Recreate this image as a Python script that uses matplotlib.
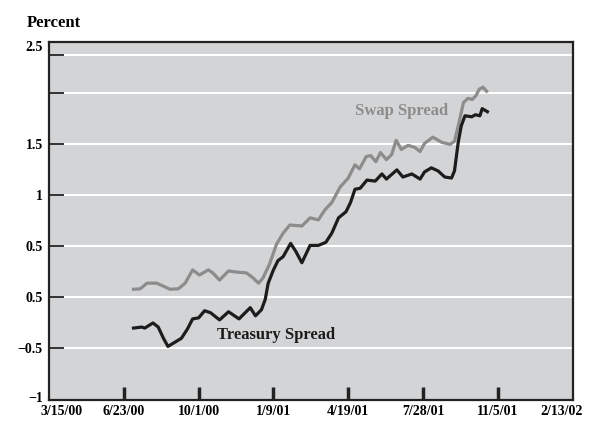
import matplotlib
matplotlib.use("Agg")
import matplotlib.pyplot as plt
import matplotlib.dates as mdates
import matplotlib.transforms as mtransforms
import pandas as pd

# Treasury spread (percent)
treasury_dates = [
    "2000-07-06", "2000-07-17", "2000-07-21", "2000-08-01", "2000-08-08", "2000-08-15",
    "2000-08-21", "2000-08-30", "2000-09-08", "2000-09-16", "2000-09-23", "2000-10-01",
    "2000-10-09", "2000-10-17", "2000-10-29", "2000-11-10", "2000-11-24", "2000-12-09",
    "2000-12-16", "2000-12-24", "2000-12-29", "2001-01-02", "2001-01-09", "2001-01-15",
    "2001-01-22", "2001-02-01", "2001-02-08", "2001-02-16", "2001-02-27", "2001-03-10",
    "2001-03-20", "2001-03-28", "2001-04-06", "2001-04-16", "2001-04-22", "2001-04-28",
    "2001-05-05", "2001-05-14", "2001-05-25", "2001-06-03", "2001-06-09", "2001-06-23",
    "2001-07-01", "2001-07-13", "2001-07-24", "2001-07-30", "2001-08-08", "2001-08-17",
    "2001-08-26", "2001-09-04", "2001-09-08", "2001-09-13", "2001-09-17", "2001-09-22",
    "2001-10-01", "2001-10-06", "2001-10-12", "2001-10-15", "2001-10-22",
]
treasury_values = [
    -0.30, -0.29, -0.30, -0.25, -0.29, -0.40,
    -0.48, -0.44, -0.40, -0.31, -0.21, -0.20,
    -0.13, -0.15, -0.22, -0.14, -0.21, -0.10,
    -0.18, -0.12, -0.02, 0.14, 0.27, 0.36,
    0.40, 0.53, 0.45, 0.34, 0.51, 0.51,
    0.54, 0.63, 0.78, 0.84, 0.93, 1.06,
    1.07, 1.15, 1.14, 1.21, 1.16, 1.25,
    1.18, 1.21, 1.16, 1.23, 1.27, 1.24,
    1.18, 1.17, 1.24, 1.52, 1.68, 1.78,
    1.77, 1.79, 1.78, 1.85, 1.82,
]

# Swap spread (percent)
swap_dates = [
    "2000-07-06", "2000-07-15", "2000-07-24", "2000-08-06", "2000-08-15", "2000-08-24",
    "2000-09-04", "2000-09-13", "2000-09-23", "2000-10-02", "2000-10-14", "2000-10-20",
    "2000-10-29", "2000-11-10", "2000-11-19", "2000-12-04", "2000-12-13", "2000-12-20",
    "2000-12-26", "2001-01-04", "2001-01-13", "2001-01-22", "2001-01-31", "2001-02-16",
    "2001-02-27", "2001-03-10", "2001-03-19", "2001-03-28", "2001-04-08", "2001-04-19",
    "2001-04-28", "2001-05-04", "2001-05-13", "2001-05-19", "2001-05-26", "2001-06-01",
    "2001-06-09", "2001-06-16", "2001-06-22", "2001-06-29", "2001-07-08", "2001-07-17",
    "2001-07-24", "2001-07-30", "2001-08-10", "2001-08-22", "2001-09-02", "2001-09-08",
    "2001-09-13", "2001-09-20", "2001-09-26", "2001-10-02", "2001-10-07", "2001-10-11",
    "2001-10-16", "2001-10-21",
]
swap_values = [
    0.08, 0.085, 0.14, 0.14, 0.11, 0.08,
    0.085, 0.14, 0.27, 0.22, 0.27, 0.24,
    0.17, 0.26, 0.25, 0.24, 0.19, 0.14,
    0.19, 0.33, 0.52, 0.63, 0.71, 0.70,
    0.78, 0.76, 0.86, 0.93, 1.08, 1.17,
    1.30, 1.26, 1.38, 1.39, 1.33, 1.42,
    1.35, 1.40, 1.54, 1.45, 1.49, 1.47,
    1.43, 1.51, 1.57, 1.52, 1.50, 1.53,
    1.68, 1.91, 1.95, 1.94, 1.98, 2.04,
    2.06, 2.02,
]

# axis labels as printed in the original (including its odd "0.5" at zero)
x_tick_dates = ["2000-03-15", "2000-06-23", "2000-10-01", "2001-01-09",
                "2001-04-19", "2001-07-28", "2001-11-05", "2002-02-13"]
x_tick_labels = ["3/15/00", "6/23/00", "10/1/00", "1/9/01",
                 "4/19/01", "7/28/01", "11/5/01", "2/13/02"]
y_grid = [-0.5, 0, 0.5, 1, 1.5, 2, 2.38]
y_grid_labels = ["\u22120.5", "0.5", "0.5", "1", "1.5", "", ""]
y_edge = [-1, 2.5]
y_edge_labels = ["\u22121", "2.5"]

plt.rcParams['font.family'] = ['Liberation Serif', 'DejaVu Serif']
plt.rcParams['font.weight'] = 'bold'

fig = plt.figure(figsize=(5.98, 4.32), dpi=100)
ax = fig.add_axes([0.0819, 0.0752, 0.8758, 0.8269])
ax.set_facecolor('#d3d4d6')

ax.plot(pd.to_datetime(swap_dates), swap_values, color='#8c8c8c', lw=2.3,
        solid_joinstyle='round', zorder=3)
ax.plot(pd.to_datetime(treasury_dates), treasury_values, color='#1c1c1c', lw=2.3,
        solid_joinstyle='round', zorder=4)

ax.set_xlim(pd.Timestamp("2000-03-15"), pd.Timestamp("2002-02-13"))
ax.set_ylim(-1, 2.5)

# y axis: gridlines with inward tick marks
ax.set_yticks(y_grid)
ax.set_yticklabels(y_grid_labels)
ax.set_yticks(y_edge, minor=True)
ax.set_yticklabels(y_edge_labels, minor=True)
ax.tick_params(axis='y', which='major', direction='in', length=11, width=1.3,
               color='#222222', labelsize=10, pad=4.5)
ax.tick_params(axis='y', which='minor', length=0, labelsize=10, pad=4.5)
ax.yaxis.grid(True, which='major', color='white', lw=1.5)
ax.set_axisbelow(True)

# x axis: thick inward ticks, no marks at the ends
ax.set_xticks(pd.to_datetime(x_tick_dates))
ax.set_xticklabels(x_tick_labels)
ax.tick_params(axis='x', direction='in', length=9.5, width=2.5, color='#222222',
               labelsize=10, pad=4)
xticks = ax.xaxis.get_major_ticks()
for t in (xticks[0], xticks[-1]):
    t.tick1line.set_visible(False)
xticks[0].label1.set_transform(xticks[0].label1.get_transform() +
                               mtransforms.ScaledTranslation(13 / 100, 0, fig.dpi_scale_trans))
xticks[-1].label1.set_transform(xticks[-1].label1.get_transform() +
                                mtransforms.ScaledTranslation(-11 / 100, 0, fig.dpi_scale_trans))
ytk = ax.yaxis.get_minor_ticks()
ytk[0].label1.set_transform(ytk[0].label1.get_transform() +
                            mtransforms.ScaledTranslation(0, 3 / 100, fig.dpi_scale_trans))
ytk[1].label1.set_transform(ytk[1].label1.get_transform() +
                            mtransforms.ScaledTranslation(0, -4 / 100, fig.dpi_scale_trans))

for s in ax.spines.values():
    s.set_color('#222222')
    s.set_linewidth(1.6)

ax.text(pd.Timestamp("2001-06-29"), 1.83, "Swap Spread", color='#8c8c8c',
        fontsize=12, fontweight='bold', ha='center', va='center')
ax.text(pd.Timestamp("2001-01-13"), -0.37, "Treasury Spread", color='#1c1c1c',
        fontsize=12, fontweight='bold', ha='center', va='center')

fig.text(0.0446, 0.9375, "Percent", fontsize=12, fontweight='bold', ha='left',
         va='baseline')

fig.savefig("out.png", dpi=100)
